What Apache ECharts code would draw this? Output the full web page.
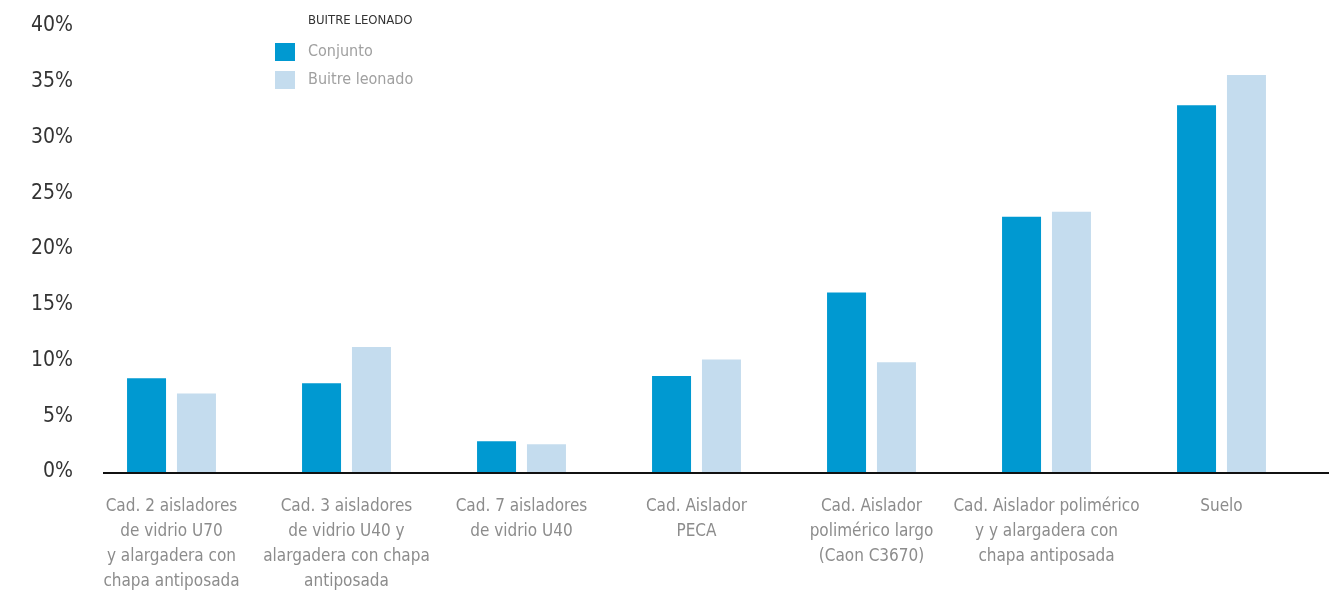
<!DOCTYPE html>
<html>
<head>
<meta charset="utf-8">
<title>Buitre leonado</title>
<script src="https://cdn.jsdelivr.net/npm/echarts@6/dist/echarts.min.js"></script>
<style>
  html, body { margin: 0; padding: 0; background: #ffffff; }
  #chart { width: 1338px; height: 594px; }
</style>
</head>
<body>
<div id="chart"></div>
<script>
// Tipos de apoyo / cadena de aisladores
const categories = [
  'Cad. 2 aisladores\nde vidrio U70\ny alargadera con\nchapa antiposada',
  'Cad. 3 aisladores\nde vidrio U40 y\nalargadera con chapa\nantiposada',
  'Cad. 7 aisladores\nde vidrio U40',
  'Cad. Aislador\nPECA',
  'Cad. Aislador\npolimérico largo\n(Caon C3670)',
  'Cad. Aislador polimérico\ny y alargadera con\nchapa antiposada',
  'Suelo'
];

// Porcentajes por serie
const conjunto = [8.4, 7.95, 2.75, 8.6, 16.1, 22.9, 32.9];
const buitreLeonado = [7.05, 11.2, 2.5, 10.1, 9.85, 23.35, 35.6];

const seriesNames = ['Conjunto', 'Buitre leonado'];
const legendTitle = 'BUITRE LEONADO';

const FONT = "'Liberation Sans Narrow', 'DejaVu Sans Condensed', 'Roboto', sans-serif";

const chart = echarts.init(document.getElementById('chart'), null, { renderer: 'canvas' });

chart.setOption({
  animation: false,
  backgroundColor: '#ffffff',
  textStyle: { fontFamily: FONT },
  title: {
    text: legendTitle,
    left: 303,
    top: 9,
    textStyle: { fontFamily: FONT, fontSize: 13, fontWeight: 'normal', color: '#333333' }
  },
  legend: {
    orient: 'vertical',
    left: 275,
    top: 43,
    padding: 0,
    itemWidth: 20,
    itemHeight: 18,
    itemGap: 10,
    icon: 'rect',
    data: seriesNames,
    textStyle: { fontFamily: FONT, fontSize: 16, color: '#a0a0a0', padding: [0, 0, 0, 8] }
  },
  grid: { left: 84, right: 29, top: 26, bottom: 121 },
  // baseline drawn across the full plot width
  graphic: [{
    type: 'line',
    z: 10,
    shape: { x1: 103, y1: 473, x2: 1329, y2: 473 },
    style: { stroke: '#111111', lineWidth: 2 }
  }],
  xAxis: {
    type: 'category',
    data: categories,
    axisLine: { show: false },
    axisTick: { show: false },
    axisLabel: {
      interval: 0,
      margin: 22,
      fontFamily: FONT,
      fontSize: 17,
      lineHeight: 25,
      color: '#8c8c8c',
      align: 'center'
    }
  },
  yAxis: {
    type: 'value',
    min: 0,
    max: 40,
    interval: 5,
    axisLine: { show: false },
    axisTick: { show: false },
    splitLine: { show: false },
    axisLabel: {
      formatter: '{value}%',
      margin: 11,
      fontFamily: FONT,
      fontSize: 21,
      color: '#333333'
    }
  },
  series: [
    {
      name: seriesNames[0],
      type: 'bar',
      data: conjunto,
      barWidth: 39,
      barGap: '28%',
      itemStyle: { color: '#0099D1' }
    },
    {
      name: seriesNames[1],
      type: 'bar',
      data: buitreLeonado,
      barWidth: 39,
      itemStyle: { color: '#C4DCEE' }
    }
  ]
});
</script>
</body>
</html>
